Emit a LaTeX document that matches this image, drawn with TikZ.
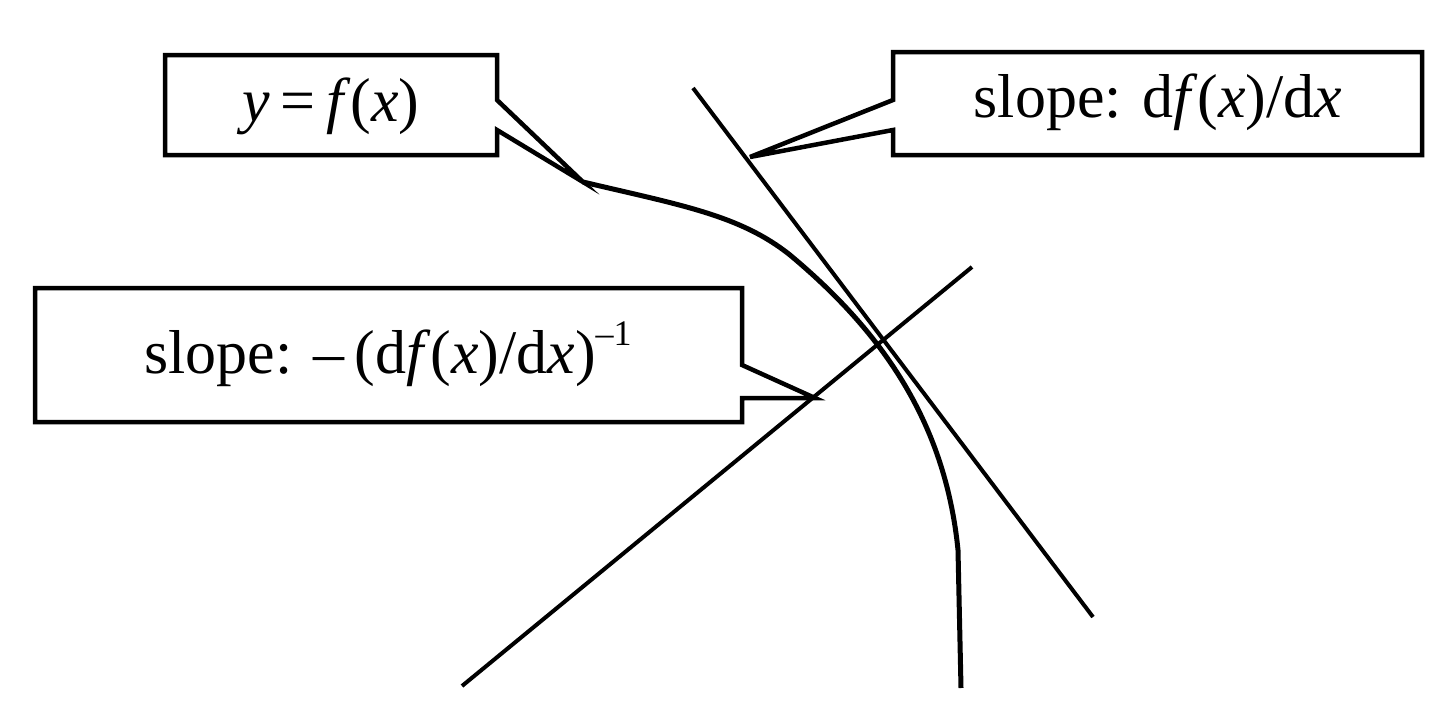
\documentclass[tikz,border=0pt]{standalone}
\usepackage{fontspec}
\setmainfont{Liberation Serif}
\begin{document}
\begin{tikzpicture}[x=1pt,y=-1pt,line join=miter,
  box/.style={line width=4.5pt},
  lbl/.style={inner sep=0pt,font=\fontsize{62}{70}\selectfont}]
\useasboundingbox (0,0) rectangle (1454,715);
\draw[box] (165,55)--(497,55)--(497,100)--(583,182)--(497,130)--(497,155)--(165,155)--cycle;
\draw[box] (893,52)--(1422,52)--(1422,155)--(893,155)--(893,130)--(750,157)--(893,100)--cycle;
\draw[box] (35,288)--(742,288)--(742,365)--(815,398)--(742,398)--(742,422)--(35,422)--cycle;
\node[lbl] (t1) at (331,106) {\textit{y}\,=\,\textit{f}(\textit{x})};
\node[lbl] (t2) at (1158,102) {slope: d\textit{f}(\textit{x})/d\textit{x}};
\node[lbl] (t3) at (388,354) {slope: \raisebox{0pt}{--}\,(d\textit{f}(\textit{x})/d\textit{x})\raisebox{0.45em}{\fontsize{36}{40}\selectfont --1}};
\draw[line width=5pt] (583,182) .. controls (680,205) and (740,215) .. (790,255)
  .. controls (880,330) and (945,420) .. (958,550) -- (961,688);
\draw[line width=4pt] (693,88) -- (1093,617);
\draw[line width=4pt] (462,686) -- (972,267);
\end{tikzpicture}
\end{document}
